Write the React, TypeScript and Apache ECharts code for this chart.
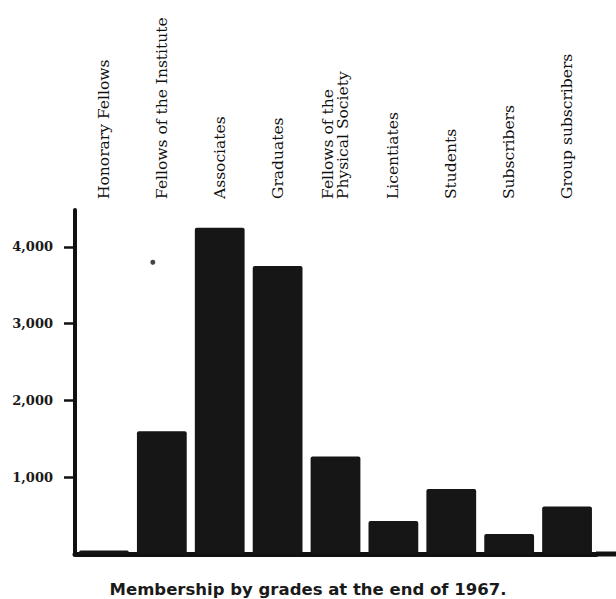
import React, { useEffect, useRef } from "react";
import * as echarts from "echarts";

const categories = [
  "Honorary Fellows",
  "Fellows of the Institute",
  "Associates",
  "Graduates",
  "Fellows of the\nPhysical Society",
  "Licentiates",
  "Students",
  "Subscribers",
  "Group subscribers",
];
const members = [45, 1600, 4250, 3750, 1270, 430, 845, 260, 620];
const speck = ["-", 3800, "-", "-", "-", "-", "-", "-", "-"];
const yTicks = [1000, 2000, 3000, 4000];
const titleText = "Membership by grades at the end of 1967.";

export default function App() {
  const ref = useRef<HTMLDivElement>(null);
  useEffect(() => {
    if (!ref.current) return;
    const chart = echarts.init(ref.current, null, { renderer: "svg" });
    const serif = "DejaVu Serif";
    chart.setOption({
      animation: false,
      backgroundColor: "#ffffff",
      title: {
        text: titleText,
        left: "center",
        top: 576,
        textStyle: {
          fontFamily: "DejaVu Sans",
          fontWeight: "bold",
          fontSize: 16.5,
          color: "#1a1a1a",
        },
      },
      grid: { left: 75, right: 20, top: 210, bottom: 45, containLabel: false },
      xAxis: [
        {
          type: "category",
          data: categories,
          position: "bottom",
          axisLine: { show: true, lineStyle: { color: "#111", width: 5 } },
          axisTick: { show: false },
          axisLabel: { show: false },
        },
        {
          type: "category",
          data: categories,
          position: "top",
          axisLine: { show: false },
          axisTick: { show: false },
          axisLabel: {
            show: true,
            rotate: -90,
            margin: 11,
            interval: 0,
            fontFamily: serif,
            fontSize: 15.5,
            lineHeight: 15,
            color: "#111",
          },
        },
      ],
      yAxis: {
        type: "value",
        min: 0,
        max: 4480,
        splitLine: { show: false },
        axisLine: { show: true, lineStyle: { color: "#111", width: 4 } },
        axisTick: {
          show: true,
          length: 11,
          customValues: yTicks,
          lineStyle: { color: "#111", width: 2.5 },
        },
        axisLabel: {
          customValues: yTicks,
          margin: 22,
          fontFamily: serif,
          fontWeight: "bold",
          fontSize: 13,
          color: "#1a1a1a",
          formatter: (v: number) => v.toLocaleString("en-US"),
        },
      },
      series: [
        {
          type: "bar",
          data: members,
          xAxisIndex: 0,
          barWidth: "86%",
          itemStyle: { color: "#161616", borderRadius: 2 },
        },
        {
          type: "scatter",
          data: speck,
          xAxisIndex: 0,
          symbolSize: 5,
          symbolOffset: [-9, 0],
          itemStyle: { color: "#161616" },
        },
      ],
      graphic: [
        {
          type: "rect",
          shape: { x: 596, y: 551.5, width: 20, height: 5 },
          style: { fill: "#111" },
        },
      ],
    });
    return () => chart.dispose();
  }, []);
  return (
    <div
      ref={ref}
      style={{ position: "fixed", left: 0, top: 0, width: 616, height: 599 }}
    />
  );
}
